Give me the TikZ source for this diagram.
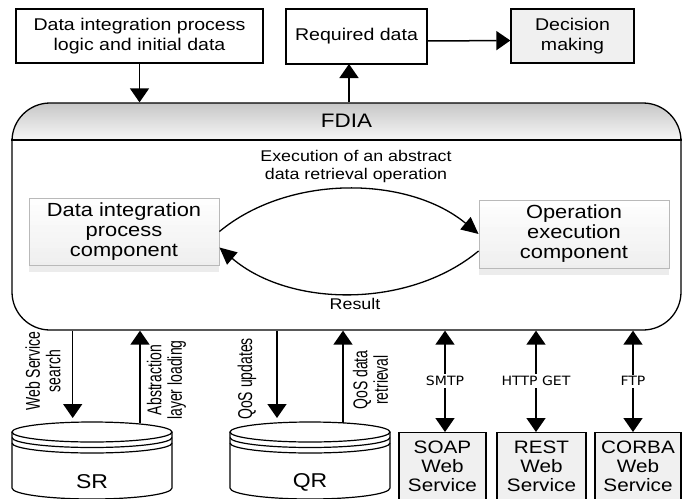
\documentclass[tikz,border=0pt]{standalone}
\usepackage{fontspec}
\setmainfont[FakeStretch=1.15]{Liberation Sans}
\newfontfamily\rotfont[FakeStretch=0.7]{Liberation Sans}
\newfontfamily\protofont[FakeStretch=1.1]{DejaVu Sans}
\usetikzlibrary{arrows.meta,shadows,calc}

\tikzset{
 topbox/.style={draw, line width=1.3pt, align=center, inner sep=0pt, font=\fontsize{17}{19.5}\selectfont},
 compbox/.style={draw=gray!55, line width=0.9pt, fill=gray!6, align=center, inner sep=0pt,
   font=\fontsize{19}{20}\selectfont, drop shadow={shadow xshift=0pt, shadow yshift=-7pt, fill=gray!15, opacity=1},
   path picture={
     \foreach \i in {0,...,19} {
       \pgfmathtruncatemacro\g{1+\i*12/19}
       \fill[gray!\g] ($(path picture bounding box.north west)!\i/20!(path picture bounding box.south west)$)
         rectangle ($(path picture bounding box.north east)!{(\i+1.3)/20}!(path picture bounding box.south east)$);
     }
   }},
 wsbox/.style={draw, line width=1.3pt, fill=gray!12, align=center, inner sep=0pt, font=\fontsize{18}{19}\selectfont, anchor=north},
 arr/.style={line width=1.5pt, -{Triangle[width=19pt,length=14pt]}},
 darr/.style={line width=1.5pt, {Triangle[width=19pt,length=14pt]}-{Triangle[width=19pt,length=14pt]}},
 arcarr/.style={line width=1.3pt, -{Triangle[width=16pt,length=17pt]}},
 rotlbl/.style={rotate=90, align=center, inner sep=0pt, font=\rotfont\fontsize{20}{20.5}\selectfont},
 proto/.style={fill=white, inner sep=2pt, font=\protofont\fontsize{12.8}{13}\selectfont},
 cyl/.style={line width=1.2pt},
 midlbl/.style={align=center, inner sep=0pt, font=\fontsize{15.5}{18}\selectfont},
 cyllbl/.style={inner sep=0pt, font=\fontsize{20}{20}\selectfont},
}

\newcommand\dbcyl[1]{%
 \draw[cyl, fill=white] (#1-80,432) -- (#1-80,488) arc[start angle=180, end angle=360, x radius=80pt, y radius=11pt] -- (#1+80,432);
 \draw[cyl] (#1,432) ellipse[x radius=80pt, y radius=10pt];
 \draw[cyl] (#1-80,437.5) arc[start angle=180, end angle=360, x radius=80pt, y radius=10pt];
 \draw[cyl] (#1-80,443) arc[start angle=180, end angle=360, x radius=80pt, y radius=10pt];
}

\begin{document}
\begin{tikzpicture}[x=1pt,y=-1pt]
\useasboundingbox (0,0) rectangle (682,498);

% FDIA header gradient (top darker, bottom lighter)
\begin{scope}
  \clip[rounded corners=38pt] (12,103) rectangle (681,330);
  \foreach \i in {0,...,36} {
    \pgfmathtruncatemacro\g{44-\i}
    \fill[gray!\g] (12,103+\i) rectangle (681,104.2+\i);
  }
\end{scope}
% FDIA container
\node[draw, line width=1.3pt, rounded corners=38pt, minimum width=669pt, minimum height=227pt, inner sep=0pt] (fdia) at (346.5,216.5) {};
\draw[line width=1.3pt] (fdia.west |- 0,140) -- (fdia.east |- 0,140);
\node[inner sep=0pt, font=\fontsize{19.5}{20}\selectfont] (fdialbl) at (346.5,121) {FDIA};

% top boxes
\node[topbox, minimum width=247pt, minimum height=54pt] (b1) at (139.5,36) {Data integration process\\logic and initial data};
\node[topbox, minimum width=141pt, minimum height=55pt] (req) at (356.5,36.5) {Required data};
\node[topbox, fill=gray!12, minimum width=123pt, minimum height=54pt] (dec) at (572.5,36) {Decision\\making};

\draw[arr] (b1.south) -- (b1.south |- fdia.north);
\coordinate (rq) at (349,64);
\draw[arr] (rq |- fdia.north) -- (rq);
\draw[arr] ([yshift=-4.5pt]req.east) -- ([yshift=-4.5pt]dec.west);

% components
\node[compbox, minimum width=190pt, minimum height=67pt] (dip) at (124,231.5) {Data integration\\process\\component};
\node[compbox, minimum width=190pt, minimum height=68pt] (oec) at (574,234) {Operation\\execution\\component};

\draw[arcarr] (dip.east) .. controls +(70,-58) and +(-70,-58) .. (oec.west);
\draw[arcarr] ([yshift=-17pt]oec.west) .. controls +(-70,58) and +(70,60) .. ([yshift=-16pt]dip.east);
\node[midlbl] (exl) at (356,166) {Execution of an abstract\\data retrieval operation};
\node[midlbl] (resl) at (355,304) {Result};

% repositories
\dbcyl{92}
\dbcyl{310}
\node[cyllbl] (sr) at (92,482) {SR};
\node[cyllbl] (qr) at (310,482) {QR};

\coordinate (wss) at (72.7,418);
\coordinate (abl) at (140,423);
\coordinate (qsu) at (277,418);
\coordinate (qdr) at (343,423);
\draw[arr] (wss |- fdia.south) -- (wss);
\draw[arr] (abl) -- (abl |- fdia.south);
\draw[arr] (qsu |- fdia.south) -- (qsu);
\draw[arr] (qdr) -- (qdr |- fdia.south);

\node[rotlbl] (l1) at (43,371) {Web Service\\search};
\node[rotlbl] (l2) at (166.5,380) {Abstraction\\layer loading};
\node[rotlbl] (l3) at (247,379) {QoS updates};
\node[rotlbl] (l4) at (370.5,380) {QoS data\\retrieval};

% web services
\node[wsbox, minimum width=87pt, minimum height=67pt] (soap) at (442.5,432) {SOAP\\Web\\Service};
\node[wsbox, minimum width=89pt, minimum height=67pt] (rest) at (541.5,432) {REST\\Web\\Service};
\node[wsbox, minimum width=86pt, minimum height=67pt] (corba) at (638,432) {CORBA\\Web\\Service};

\coordinate (smc) at (445,432);
\coordinate (htc) at (536,432);
\coordinate (ftc) at (633,432);
\draw[darr] (smc |- fdia.south) -- node[proto] (smtp) {SMTP} (smc);
\draw[darr] (htc |- fdia.south) -- node[proto] (http) {HTTP GET} (htc);
\draw[darr] (ftc |- fdia.south) -- node[proto] (ftp) {FTP} (ftc);
\end{tikzpicture}
\end{document}
